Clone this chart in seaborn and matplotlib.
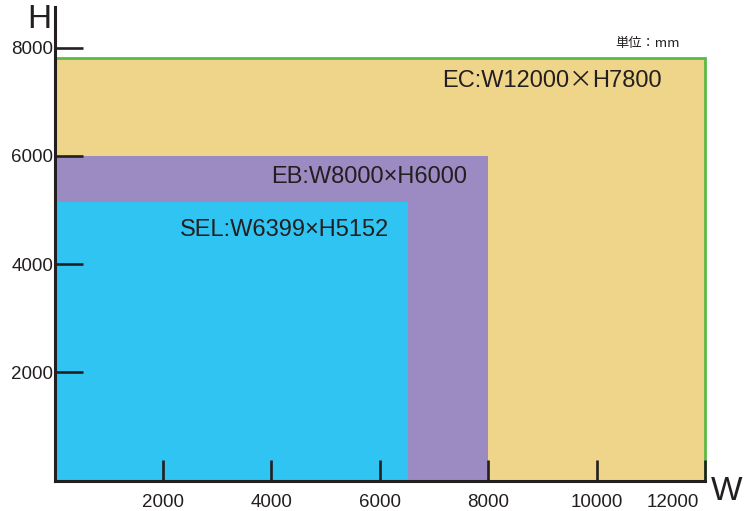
import numpy as np
import matplotlib
matplotlib.use("Agg")
import matplotlib.pyplot as plt
import matplotlib.transforms as mtransforms
import seaborn as sns

# machine envelopes (mm), drawn from the origin
names = ["EC", "EB", "SEL"]
widths = [12000, 8000, 6520]
heights = [7800, 6000, 5140]
labels = ["EC:W12000\u00d7H7800", "EB:W8000\u00d7H6000", "SEL:W6399\u00d7H5152"]
colors = ["#efd589", "#9b8bc2", "#30c4f3"]
edges = ["#5cb946", "none", "none"]
xticks = [2000, 4000, 6000, 8000, 10000, 12000]
yticks = [2000, 4000, 6000, 8000]

sns.set_theme(style="white")
plt.rcParams["font.family"] = ["Liberation Sans", "DejaVu Sans"]

fig = plt.figure(figsize=(7.53, 5.11), dpi=100)
ax = fig.add_axes([54.6 / 753, 30.5 / 511, 650.4 / 753, 473.5 / 511])
ax.set_axisbelow(False)

for w, h, c, e in zip(widths, heights, colors, edges):
    ax.bar(0, h, width=w, align="edge", color=c, edgecolor=e,
           linewidth=2.0, zorder=1, clip_on=False)

ax.set_xlim(0, 12000)
ax.set_ylim(0, 8750)

dark = "#231f20"
for s in ["top", "right"]:
    ax.spines[s].set_visible(False)
for s in ["left", "bottom"]:
    ax.spines[s].set_color(dark)
    ax.spines[s].set_linewidth(2.2)
    ax.spines[s].set_zorder(5)

ax.set_xticks(xticks)
ax.set_yticks(yticks)
ax.set_xticklabels([str(t) for t in xticks])
ax.set_yticklabels([str(t) for t in yticks])
ax.tick_params(axis="x", direction="in", length=15, width=1.9, color=dark,
               labelsize=13.5, labelcolor=dark, pad=9.5, bottom=True)
ax.tick_params(axis="y", direction="in", length=20, width=1.9, color=dark,
               labelsize=13.5, labelcolor=dark, pad=1, left=True)

# nudge the last x label away from the W marker
last = ax.get_xticklabels()[-1]
last.set_transform(last.get_transform() +
                   mtransforms.ScaledTranslation(-32 / 100, 0, fig.dpi_scale_trans))

txt_kw = dict(fontsize=17, color=dark, va="center", zorder=4)

# EC label: latin parts in Liberation Sans, full-width cross from the CJK font
ec_a, ec_b = labels[0].split("\u00d7")
t_h = ax.text(widths[0] - 790, 7390, ec_b, ha="right", **txt_kw)
t_x = ax.annotate("\u00d7", xy=(0, 0.5), xycoords=t_h, ha="right",
                  family=["Noto Sans CJK JP"], **txt_kw)
ax.annotate(ec_a, xy=(0, 0.5), xycoords=t_x, ha="right", **txt_kw)

ax.text(widths[1] - 390, 5610, labels[1], ha="right", **txt_kw)
ax.text(widths[2] - 350, 4630, labels[2], ha="right", **txt_kw)

ax.text(11540, 8068, "単位：mm", fontsize=9.5, color=dark, ha="right", va="center",
        family=["Noto Sans CJK JP", "DejaVu Sans"])

fig.text(39 / 753, 1 - 20 / 511, "H", fontsize=24, color=dark, ha="center", va="center")
fig.text(727 / 753, 1 - 492 / 511, "W", fontsize=24, color=dark, ha="center", va="center")

fig.savefig("out.png", dpi=100)
